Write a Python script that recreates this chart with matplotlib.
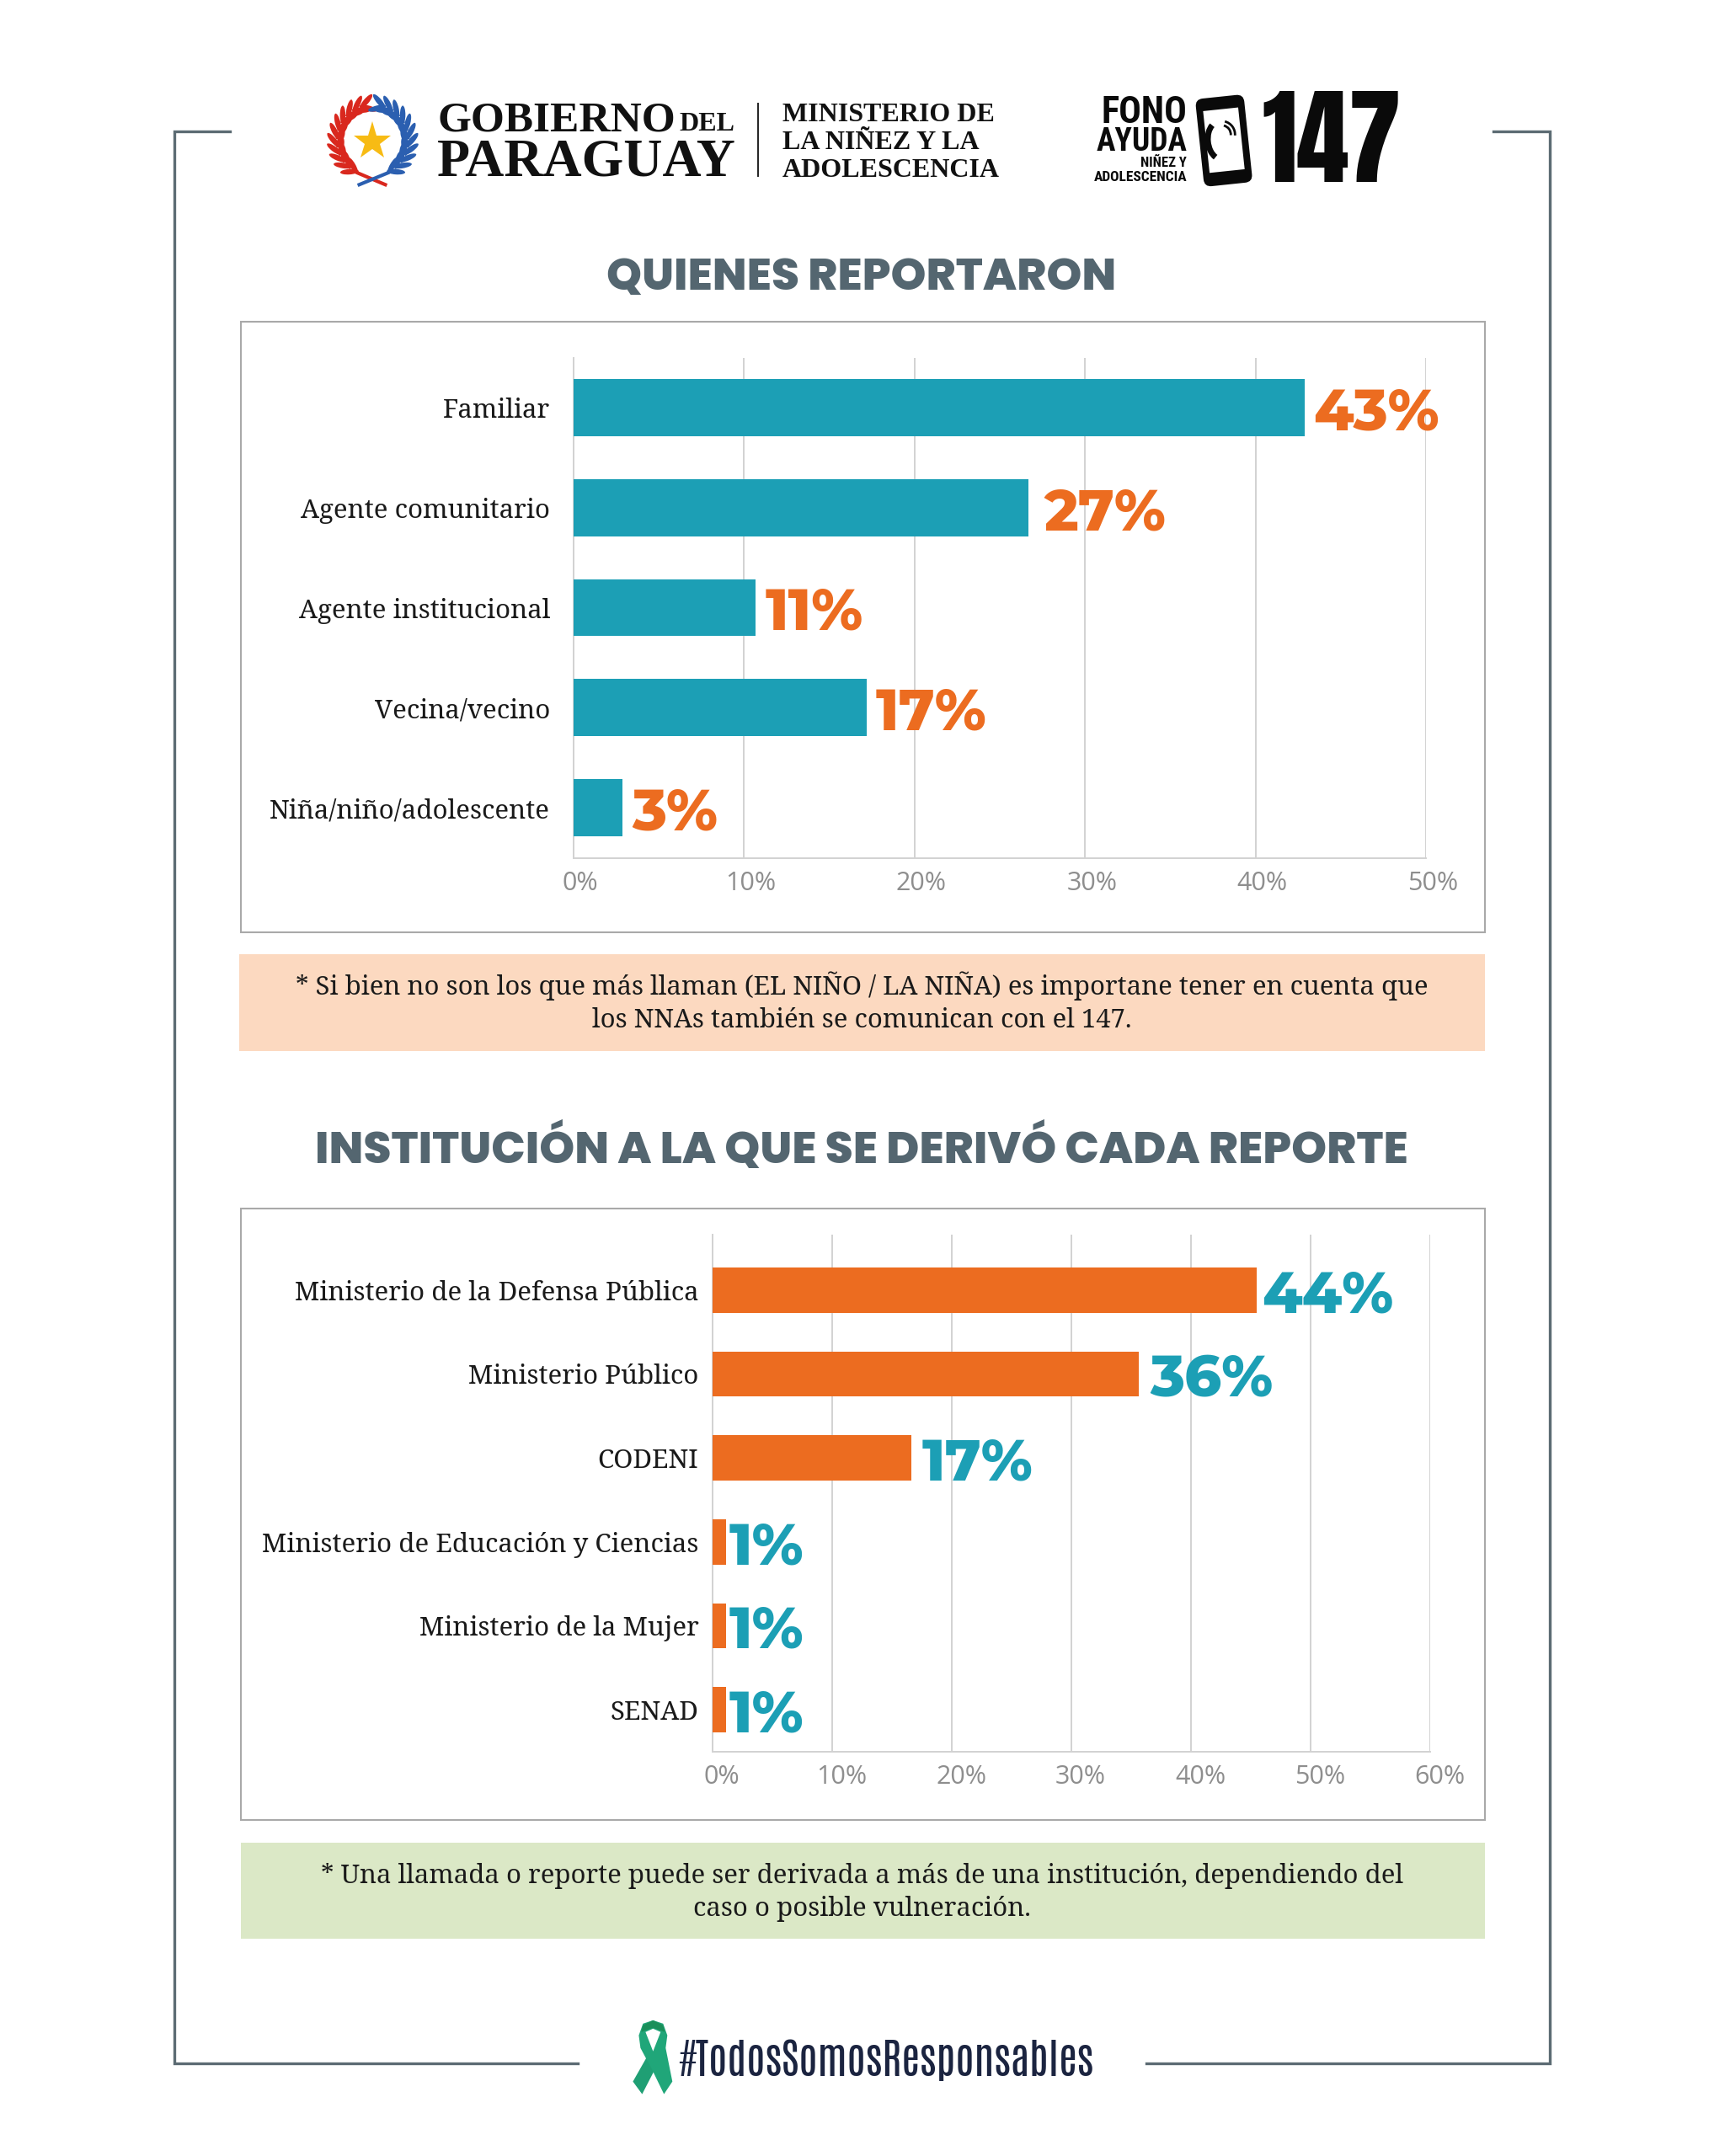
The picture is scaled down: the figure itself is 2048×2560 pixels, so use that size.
import matplotlib
matplotlib.use("Agg")
import matplotlib.pyplot as plt
import numpy as np
from matplotlib.patches import Rectangle, Polygon, Ellipse, FancyBboxPatch, Arc
from matplotlib.transforms import Affine2D, ScaledTranslation

W, H = 2048, 2560
# layout numbers below were measured on a slightly larger grid
CW, CH = 2055, 2568.7

# chart data
rep_labels = ["Familiar", "Agente comunitario", "Agente institucional", "Vecina/vecino", "Niña/niño/adolescente"]
rep_values = [42.9, 26.7, 10.7, 17.2, 2.9]
rep_text = ["43%", "27%", "11%", "17%", "3%"]
rep_ticks = [0, 10, 20, 30, 40, 50]

der_labels = ["Ministerio de la Defensa Pública", "Ministerio Público", "CODENI",
              "Ministerio de Educación y Ciencias", "Ministerio de la Mujer", "SENAD"]
der_values = [45.5, 35.6, 16.6, 1.15, 1.15, 1.15]
der_text = ["44%", "36%", "17%", "1%", "1%", "1%"]
der_ticks = [0, 10, 20, 30, 40, 50, 60]

TEAL = "#1c9fb5"
ORANGE = "#ec6c20"
SLATE = "#546670"
GRID = "#d2d2d2"
SERIF = ["Noto Serif", "DejaVu Serif"]
HEAVY = ["Poppins", "Lato"]
NUMS = ["Montserrat Alternates", "Lato"]
TALL = ["Antonio", "Roboto"]

fig = plt.figure(figsize=(W / 100, H / 100), dpi=100, facecolor="white")

# full page axes in pixel coordinates for frame, boxes and logos
bg = fig.add_axes([0, 0, 1, 1], zorder=0)
bg.set_xlim(0, CW)
bg.set_ylim(CH, 0)
bg.axis("off")


def axes_px(x0, y0, x1, y1):
    return fig.add_axes([x0 / CW, 1 - y1 / CH, (x1 - x0) / CW, (y1 - y0) / CH], zorder=2, facecolor="none")


def draw_chart(ax, labels, values, texts, ticks, color, text_color, bar_h, top, gaps, pad, tick_dx):
    y = np.arange(len(labels))
    ax.barh(y, values, height=bar_h, color=color, zorder=3)
    ax.set_ylim(len(labels) - 0.5, top)
    ax.set_xlim(ticks[0], ticks[-1])
    ax.set_yticks(y)
    ax.set_yticklabels(labels, family=SERIF, fontsize=22.5, color="#1a1a1a")
    ax.set_xticks(ticks)
    ax.set_xticklabels([f"{t}%" for t in ticks], family="Open Sans", fontsize=22, color="#8e8e8e")
    ax.tick_params(axis="y", length=0, pad=pad)
    ax.tick_params(axis="x", length=0, pad=11)
    for lab in ax.get_xticklabels():
        lab.set_transform(lab.get_transform() + ScaledTranslation(tick_dx / 100, 0, fig.dpi_scale_trans))
    ax.grid(axis="x", color=GRID, lw=1.4, zorder=0)
    ax.set_axisbelow(True)
    for side in ["top", "right"]:
        ax.spines[side].set_visible(False)
    for side in ["left", "bottom"]:
        ax.spines[side].set_color(GRID)
        ax.spines[side].set_linewidth(1.4)
    for i, (v, t) in enumerate(zip(values, texts)):
        ax.annotate(t, (v, i), xytext=(gaps[i], -7), textcoords="offset pixels", va="center", ha="left",
                    family=NUMS, weight=800, fontsize=49, color=text_color, zorder=4)


# page frame, open at top and bottom
frame_c = "#5c6b73"
bg.plot([274, 208, 208, 688], [157, 157, 2458, 2458], color=frame_c, lw=2.4, solid_joinstyle="miter")
bg.plot([1779, 1846, 1846, 1366], [157, 157, 2458, 2458], color=frame_c, lw=2.4, solid_joinstyle="miter")

# crest
cx, cy = 444, 167
for side, col in [(-1, "#d9281e"), (1, "#2b5fb0")]:
    for a in np.linspace(-62, 72, 11):
        t = np.deg2rad(a)
        px = cx + side * 42 * np.cos(t)
        py = cy - 42 * np.sin(t)
        tang = np.degrees(np.arctan2(-np.cos(t), -side * np.sin(t)))
        for off in (-32, 32):
            leaf = np.deg2rad(tang + off)
            bg.add_patch(Ellipse((px + 8 * np.cos(leaf), py + 8 * np.sin(leaf)), 22, 6.5,
                                 angle=tang + off, color=col, lw=0))
bg.plot([426, 459], [206, 220], color="#d9281e", lw=3)
bg.plot([462, 428], [206, 220], color="#2b5fb0", lw=3)
bg.plot([cx], [cy + 2], marker="*", ms=34, color="#f7bb14", mew=0)

bg.text(521, 144, "GOBIERNO", family="Liberation Serif", weight="bold", fontsize=37, va="center", ha="left", color="#111111")
bg.text(809, 148, "DEL", family="Liberation Serif", weight="bold", fontsize=23, va="center", ha="left", color="#111111")
bg.text(521, 194, "PARAGUAY", family="Liberation Serif", weight="bold", fontsize=46, va="center", ha="left", color="#111111")
bg.plot([903, 903], [123, 210], color="#222222", lw=1.4)
for yy, s in zip([137, 170, 203], ["MINISTERIO DE", "LA NIÑEZ Y LA", "ADOLESCENCIA"]):
    bg.text(932, yy, s, family="Liberation Serif", weight="bold", fontsize=23, va="center", ha="left", color="#111111")

# fono ayuda logo
cond = ["Roboto Condensed", "Roboto"]
bg.text(1414, 134, "FONO", family=cond, weight="bold", fontsize=32, va="center", ha="right", color="#0a0a0a")
bg.text(1414, 169, "AYUDA", family=cond, weight="bold", fontsize=27, va="center", ha="right", color="#0a0a0a")
bg.text(1414, 194, "NIÑEZ Y", family=cond, weight="bold", fontsize=12, va="center", ha="right", color="#0a0a0a")
bg.text(1414, 211, "ADOLESCENCIA", family=cond, weight="bold", fontsize=12.5, va="center", ha="right", color="#0a0a0a")
rot = Affine2D().rotate_deg_around(1458, 167, -6) + bg.transData
bg.add_patch(FancyBboxPatch((1429, 115), 58, 105, boxstyle="round,pad=0,rounding_size=9", fc="#0a0a0a", ec="none", transform=rot))
bg.add_patch(Rectangle((1437, 130), 42, 74, fc="white", ec="none", transform=rot))
bg.add_patch(Arc((1453, 167), 28, 44, theta1=110, theta2=250, lw=5, color="#0a0a0a", transform=rot))
bg.add_patch(Arc((1456, 160), 22, 22, theta1=-70, theta2=10, lw=2, color="#0a0a0a", transform=rot))
bg.add_patch(Arc((1456, 160), 32, 32, theta1=-70, theta2=10, lw=2, color="#0a0a0a", transform=rot))
bg.text(1586, 170, "147", family=["Anton", "Roboto"], fontsize=90, va="center", ha="center", color="#0a0a0a")

# section titles
bg.text(1026, 333, "QUIENES REPORTARON", family=HEAVY, weight=800, fontsize=38.4, va="center", ha="center", color=SLATE)
bg.text(1026, 1371, "INSTITUCIÓN A LA QUE SE DERIVÓ CADA REPORTE", family=HEAVY, weight=800, fontsize=38.4, va="center", ha="center", color=SLATE)

# panels and notes
for y0, y1 in [(383, 1111), (1440, 2168)]:
    bg.add_patch(Rectangle((287, y0), 1482, y1 - y0, fc="white", ec="#a9a9a9", lw=1.5))
bg.add_patch(Rectangle((285, 1137), 1484, 115, fc="#fcd9c0", ec="none"))
bg.add_patch(Rectangle((287, 2195), 1482, 115, fc="#dbe8c6", ec="none"))
note_kw = dict(family=SERIF, fontsize=22.4, va="center", ha="center", color="#1a1a1a")
bg.text(1027, 1175, "* Si bien no son los que más llaman (EL NIÑO / LA NIÑA) es importane tener en cuenta que", **note_kw)
bg.text(1027, 1216, "los NNAs también se comunican con el 147.", **note_kw)
bg.text(1027, 2235, "* Una llamada o reporte puede ser derivada a más de una institución, dependiendo del", **note_kw)
bg.text(1027, 2274, "caso o posible vulneración.", **note_kw)

# charts
ax1 = axes_px(683, 426, 1699, 1022)
draw_chart(ax1, rep_labels, rep_values, rep_text, rep_ticks, TEAL, ORANGE, 0.57, -0.5,
           [10, 18, 11, 11, 11], 20, 8)
ax2 = axes_px(849, 1471, 1704, 2087)
draw_chart(ax2, der_labels, der_values, der_text, der_ticks, ORANGE, TEAL, 0.54, -0.66,
           [6, 14, 13, 3, 3, 3], 12, 11)

# ribbon and hashtag
bg.add_patch(Polygon([(771, 2450), (782, 2462), (765, 2495), (754, 2480)], fc="#1f9f74", ec="none"))
bg.add_patch(Polygon([(761, 2425), (766, 2411), (778, 2407), (790, 2411), (795, 2425), (793, 2440),
                      (801, 2480), (791, 2495), (775, 2462), (771, 2455), (763, 2440)], fc="#20a679", ec="none"))
bg.add_patch(Polygon([(766, 2413), (778, 2407), (790, 2413), (792, 2421), (778, 2416), (764, 2421)], fc="#1a8f5a", ec="none"))
bg.add_patch(Polygon([(769, 2421), (778, 2417), (787, 2421), (778, 2444)], fc="white", ec="none"))
bg.text(808, 2455, "#TodosSomosResponsables", family=TALL, weight=700, fontsize=36, va="center", ha="left", color="#1b2440")

fig.savefig("out.png", dpi=100)
